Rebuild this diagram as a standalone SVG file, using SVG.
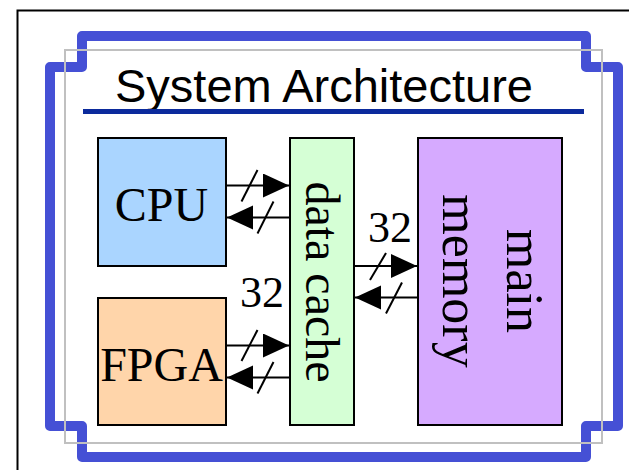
<svg xmlns="http://www.w3.org/2000/svg" width="629" height="470" viewBox="0 0 629 470">
<style>
.box{stroke:#000;stroke-width:2}
.lbl{font-family:"Liberation Serif","Times New Roman",serif;fill:#000}
.wire{stroke:#000;stroke-width:2;fill:none}
.slash{stroke:#000;stroke-width:2}
</style>
<defs>
<marker id="ah" markerUnits="userSpaceOnUse" markerWidth="27" markerHeight="25" refX="26" refY="12" orient="auto" viewBox="0 0 27 25">
<path d="M0,0 L26,12 L0,24 z" fill="#000"/>
</marker>
</defs>
<rect width="629" height="470" fill="#fff"/>
<g id="frame">
<rect x="17.5" y="10.5" width="640" height="500" fill="none" stroke="#000" stroke-width="2"/>
<path d="M82,36 H586 V67 H618 V426 H586 V457 H82 V426 H50 V67 H82 Z" fill="none" stroke="#4550D5" stroke-width="10" stroke-linejoin="round"/>
<rect x="65" y="50" width="537" height="393" fill="none" stroke="#C0C0C0" stroke-width="2"/>
</g>
<g id="title">
<text x="115" y="102" font-family="Liberation Sans, Arial, sans-serif" font-size="47" fill="#000">System Architecture</text>
<line x1="83" y1="111.5" x2="584" y2="111.5" stroke="#0B2A9C" stroke-width="5"/>
</g>
<g id="cpu">
<rect class="box" x="98" y="138" width="128" height="128" fill="#AAD5FF"/>
<text class="lbl" x="161.5" y="220.5" font-size="48" text-anchor="middle">CPU</text>
</g>
<g id="fpga">
<rect class="box" x="98" y="298" width="128" height="127" fill="#FFD5AA"/>
<text class="lbl" x="161.5" y="380.5" font-size="48" text-anchor="middle">FPGA</text>
</g>
<g id="cache">
<rect class="box" x="290" y="138" width="64" height="287" fill="#D5FFD5"/>
<text class="lbl" transform="translate(322,282) rotate(90)" x="0" y="16.5" font-size="48" text-anchor="middle">data cache</text>
</g>
<g id="memory">
<rect class="box" x="418" y="138" width="144" height="287" fill="#D6AAFF"/>
<text class="lbl" transform="translate(490,281) rotate(90)" font-size="52" text-anchor="middle"><tspan x="0" y="-17">main</tspan><tspan x="0" y="47">memory</tspan></text>
</g>
<g id="connectors">
<line class="wire" x1="226" y1="185.5" x2="289" y2="185.5" marker-end="url(#ah)"/>
<line class="slash" x1="241.5" y1="201.5" x2="257.5" y2="170"/>
<line class="wire" x1="290" y1="217.5" x2="227" y2="217.5" marker-end="url(#ah)"/>
<line class="slash" x1="257.5" y1="233.5" x2="273.5" y2="201.5"/>
<line class="wire" x1="226" y1="345.5" x2="289" y2="345.5" marker-end="url(#ah)"/>
<line class="slash" x1="241.5" y1="361" x2="257.5" y2="330"/>
<line class="wire" x1="290" y1="377.5" x2="227" y2="377.5" marker-end="url(#ah)"/>
<line class="slash" x1="257.5" y1="393.5" x2="273.5" y2="362"/>
<line class="wire" x1="354" y1="266" x2="417" y2="266" marker-end="url(#ah)"/>
<line class="slash" x1="370" y1="280" x2="386" y2="253"/>
<line class="wire" x1="418" y1="297.5" x2="355" y2="297.5" marker-end="url(#ah)"/>
<line class="slash" x1="386" y1="313.5" x2="402" y2="282.5"/>
<text class="lbl" x="390" y="241.5" font-size="44" text-anchor="middle">32</text>
<text class="lbl" x="262" y="306.5" font-size="44" text-anchor="middle">32</text>
</g>
</svg>
